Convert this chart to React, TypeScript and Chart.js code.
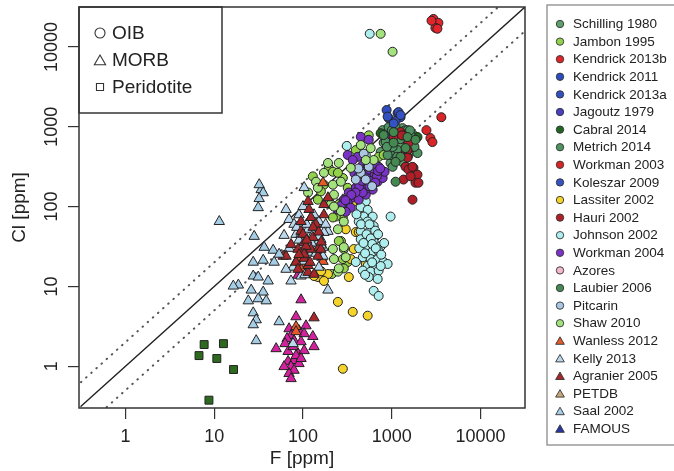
import React, { useEffect, useRef } from 'react';
import { Chart, registerables } from 'chart.js';

Chart.register(...registerables);

const FONT = "'Liberation Sans', Arial, Helvetica, sans-serif";

// ---------- axes ----------
const AXIS_MIN = 0.316; // 10^-0.5
const AXIS_MAX = 31623; // 10^4.5
const tickValues = [1, 10, 100, 1000, 10000];
const xTitle = 'F [ppm]';
const yTitle = 'Cl [ppm]';
const refRatios = [1, 2, 0.5]; // Cl/F reference lines

// ---------- inner legend ----------
const shapeLegendLabels = ['OIB', 'MORB', 'Peridotite'];
const shapeLegendShapes = ['circle', 'triangle', 'rect'];

type Pt = [number, number]; // [F ppm, Cl ppm]

// ---------- data ----------
const schilling1980: Pt[] = [[789,907],[1321,961],[1020,743],[1755,787],[1321,648],[920,541],[1755,557],[1542,443],[1355,352],[897,856],[969,743],[809,631],[749,482],[969,352],[850,700],[1150,720],[1400,900],[1650,650],[1200,600],[950,600],[1300,480]];
const jambon1995: Pt[] = [[550,781],[711,420],[195,305],[217,273],[281,228],[172,188],[159,155],[147,122],[253,107],[281,72],[809,443],[247,265],[129,239],[319,172],[234,75],[267,37],[288,29.4],[319,20.2],[195,122],[217,73],[253,37],[281,22],[288,16.8],[211,14.3],[393,510]];
const kendrick2013b: Pt[] = [[2941,22400],[3346,20000],[3097,17300],[3261,16900],[2800,21300]];
const kendrick2011: Pt[] = [[874,1620],[1161,1480],[920,1280],[1254,1316]];
const kendrick2013a: Pt[] = [[1102,1180],[1191,1525],[897,1340]];
const jagoutz1979: Pt[] = [[885,735]];
const cabral2014: Pt[] = [[749,831],[1946,743],[1624,557],[1102,468]];
const metrich2014: Pt[] = [[920,989],[1503,907],[1254,787],[852,648],[1542,631],[1161,510],[969,443],[1946,468],[1020,315],[1102,989],[1624,787],[1020,557],[897,443],[1000,900],[1250,700],[1600,900],[1800,560],[880,560],[1150,420]];
const workman2003: Pt[] = [[3614,1316],[2455,907],[2722,721],[2866,643]];
const koleszar2009: Pt[] = [[1254,1400],[1050,1100]];
const lassiter2002: Pt[] = [[319,116],[363,113],[288,107],[393,48],[424,48],[373,29.4],[345,22],[509,19.1],[328,13.1],[191,14.3],[147,13.1],[172,11.7],[133,13.5],[247,6.4],[363,4.8],[535,4.3],[281,0.93],[303,52],[160,15.5]];
const hauri2002: Pt[] = [[1542,631],[1428,482],[1503,420],[1428,315],[1755,305],[1542,291],[1355,218],[1848,199],[1710,122],[1254,860],[1503,510],[1503,410],[1710,315],[1946,251],[1624,239],[1996,199],[1355,781],[1047,750],[1300,780]];
const johnson2002: Pt[] = [[509,116],[447,98],[535,91],[483,75],[609,75],[424,65],[535,65],[625,57],[447,49],[550,48],[658,42.7],[447,39],[535,37],[625,36],[749,31.8],[509,31],[609,27.6],[711,27.6],[471,23.2],[578,22],[693,22],[809,20.2],[393,20.2],[535,18.1],[625,17.7],[471,15.8],[578,15.3],[711,15.8],[897,19.1],[550,13.1],[693,12.4],[625,8.8],[711,7.6],[969,75],[311,575],[509,443],[550,333],[564,14600],[400,80],[450,60],[520,45],[580,40],[650,50],[430,30],[500,26],[600,34],[660,30],[760,25],[560,60],[700,45],[480,35],[820,35],[600,20],[750,18],[500,14]];
const workman2004: Pt[] = [[447,747],[550,687],[319,443],[413,420],[363,383],[471,333],[578,333],[711,315],[625,273],[749,265],[522,251],[578,228],[483,218],[413,205],[693,205],[535,188],[393,172],[447,163],[609,163],[328,150],[413,141],[509,141],[363,130],[288,122],[319,111],[267,103],[345,97],[247,91],[303,86],[424,122],[471,188],[658,239],[789,228],[830,273],[500,300],[560,290],[640,250],[600,200],[520,170],[470,150],[430,180],[680,240],[560,210],[380,260],[420,240],[540,320],[620,300],[700,280],[460,210],[390,150],[350,140],[300,120],[560,180],[650,200],[740,300]];
const azores: Pt[] = [];
const laubier2006: Pt[] = [[1047,856],[809,787],[1503,743],[1047,631],[1848,687],[1428,541],[1254,420],[1102,363],[1102,205]];
const pitcarin: Pt[] = [[483,460],[550,315],[447,265],[509,218],[393,218],[420,300],[600,180]];
const shaw2010: Pt[] = [[578,539],[253,352],[172,265],[345,305],[140,205],[217,188],[114,150],[223,141],[267,88],[625,383],[191,352],[267,205],[147,172],[206,107],[247,52],[217,29.4],[223,22],[247,15.3],[223,100],[288,65],[288,31],[253,16.8],[303,23.2],[447,591],[509,383],[749,14600],[1020,8700]];
const wanless2012: Pt[] = [[168,199],[159,25.3],[87.8,18.3],[100,19.3],[83.4,20.1],[83.4,3.14],[83.4,2.71],[87.8,22.5],[163,23.2],[168,20.6],[95,16.4],[108,22.5]];
const kelly2013: Pt[] = [[64.4,92],[69.6,69],[103,173],[73.3,11.7],[83.4,44.9],[61.2,43.6],[123,73],[140,52],[117,41.1],[95,44.9],[191,49],[129,29.2],[159,38.8],[114,26.8],[168,23.9],[191,9.0],[77.2,1.92],[117,31.8],[147,35.6],[172,47.5],[168,30.9],[114,52],[79.2,60],[90.1,79],[133,79],[151,65],[103,20.7],[77.2,17.4],[95,13.5],[64.4,16.4],[151,17.4],[100,100],[110,60],[130,45],[85,55],[150,42],[125,35],[100,28],[140,26],[160,33],[90,38],[70,30],[105,14],[180,60]];
const agranier2005: Pt[] = [[114,116],[117,92],[172,106],[191,129],[172,79],[103,35.6],[87.8,29.2],[123,29.2],[151,30.9],[147,23.9],[103,22.5],[83.4,20.1],[114,15.0],[133,14.2],[59.7,23.9],[123,73],[95,49],[108,31.8],[159,29.2],[64.4,23.9],[114,18.3],[87.8,16.4],[103,25.3],[133,4.04],[140,60],[95,65],[129,41.1],[73.3,33.6],[100,45],[130,55],[110,38],[150,48],[90,25],[120,20],[160,36]];
const petdb: Pt[] = [];
const saal2002: Pt[] = [[33.8,163],[32.1,188],[35.6,149],[32.1,126],[31.3,97],[11.4,65],[28.2,42.4],[36.5,30.9],[46.1,28.4],[53.8,25.3],[35.6,21.3],[47.3,20.1],[27.5,20.1],[27.5,13.5],[31.3,13.1],[18.7,10.4],[16.4,10.1],[26.1,9.0],[35.6,8.5],[40.5,11.7],[24.2,6.6],[31.3,7.0],[38.5,6.6],[27.5,4.67],[29.7,3.82],[27.5,3.31],[29.7,2.09],[53.8,3.61]];
const famous: Pt[] = [];
const magentaMorb: Pt[] = [[95,6.8],[83.4,4.17],[108,3.21],[69.6,2.95],[90.1,2.79],[73.3,2.42],[103,2.56],[129,2.36],[79.2,2.09],[95,2.03],[133,1.76],[49.8,1.66],[67.9,1.53],[87.8,1.44],[103,1.57],[67.9,1.15],[79.2,1.18],[90.1,1.08],[73.3,0.99],[79.2,0.89],[69.6,0.81],[73.3,0.70],[66.2,2.22],[83.4,1.36],[87.8,13.8],[62.8,1.92],[95,1.25],[61.2,0.99],[77.2,1.76]];
const peridotite: Pt[] = [[7.70,1.87],[12.7,1.92],[6.74,1.36],[10.7,1.25],[16.5,0.91],[8.72,0.376]];

// ---------- series table (legend order) ----------
const seriesLabels = ['Schilling 1980','Jambon 1995','Kendrick 2013b','Kendrick 2011','Kendrick 2013a','Jagoutz 1979','Cabral 2014','Metrich 2014','Workman 2003','Koleszar 2009','Lassiter 2002','Hauri 2002','Johnson 2002','Workman 2004','Azores','Laubier 2006','Pitcarin','Shaw 2010','Wanless 2012','Kelly 2013','Agranier 2005','PETDB','Saal 2002','FAMOUS'];
const seriesData: Pt[][] = [schilling1980,jambon1995,kendrick2013b,kendrick2011,kendrick2013a,jagoutz1979,cabral2014,metrich2014,workman2003,koleszar2009,lassiter2002,hauri2002,johnson2002,workman2004,azores,laubier2006,pitcarin,shaw2010,wanless2012,kelly2013,agranier2005,petdb,saal2002,famous];
const seriesColors = ['#5f9f6a','#93d34b','#e3242b','#2e4cbf','#3150c2','#4a3fc2','#1f6620','#4e9462','#d92428','#3552c5','#f4d32a','#b01f27','#aeeeee','#7a33c6','#f4b9cb','#44894f','#a9c7e2','#a3e27c','#e5592a','#b9d8ed','#a8272a','#c8a77a','#a6cde6','#2b35a6'];
const seriesShapes = ['circle','circle','circle','circle','circle','circle','circle','circle','circle','circle','circle','circle','circle','circle','circle','circle','circle','circle','triangle','triangle','triangle','triangle','triangle','triangle'];

function drawMarker(ctx: CanvasRenderingContext2D, shape: string, x: number, y: number, r: number, fill: string | null, stroke: string, lw: number) {
  ctx.beginPath();
  if (shape === 'circle') {
    ctx.arc(x, y, r, 0, Math.PI * 2);
  } else if (shape === 'triangle') {
    const a = (2 * Math.PI) / 3;
    ctx.moveTo(x, y - r);
    ctx.lineTo(x + r * Math.sin(a), y - r * Math.cos(a));
    ctx.lineTo(x + r * Math.sin(2 * a), y - r * Math.cos(2 * a));
    ctx.closePath();
  } else {
    const s = r * Math.SQRT1_2;
    ctx.rect(x - s, y - s, 2 * s, 2 * s);
  }
  if (fill) { ctx.fillStyle = fill; ctx.fill(); }
  ctx.lineWidth = lw;
  ctx.strokeStyle = stroke;
  ctx.stroke();
}

const decorPlugin = {
  id: 'decor',
  afterDraw(chart: any) {
    const { ctx, chartArea: a } = chart;
    ctx.save();
    // plot frame
    ctx.strokeStyle = '#333';
    ctx.lineWidth = 1.5;
    ctx.strokeRect(a.left, a.top, a.right - a.left, a.bottom - a.top);

    // inner shape legend
    ctx.strokeRect(a.left, a.top, 143, 106);
    ctx.font = `19px ${FONT}`;
    ctx.textBaseline = 'middle';
    ctx.textAlign = 'left';
    shapeLegendLabels.forEach((lab, i) => {
      const y = a.top + 26 + i * 27;
      const shape = shapeLegendShapes[i];
      const r = shape === 'triangle' ? 6.5 : 5;
      drawMarker(ctx, shape, a.left + 21, y + (shape === 'triangle' ? 1.5 : 0), r, null, '#333', 1.1);
      ctx.fillStyle = '#222';
      ctx.fillText(lab, a.left + 33, y + 1);
    });

    // right legend
    ctx.strokeStyle = '#8a8a8a';
    ctx.lineWidth = 1.3;
    ctx.strokeRect(547, 5, 200, 440);
    ctx.font = `13.5px ${FONT}`;
    seriesLabels.forEach((lab, i) => {
      const y = 24 + i * 17.6;
      const shape = seriesShapes[i];
      drawMarker(ctx, shape, 560, y + (shape === 'triangle' ? 1 : 0), shape === 'triangle' ? 5 : 3.7, seriesColors[i], '#333', 0.9);
      ctx.fillStyle = '#222';
      ctx.fillText(lab, 573, y + 0.5);
    });
    ctx.restore();
  },
};

export default function App() {
  const ref = useRef<HTMLCanvasElement | null>(null);

  useEffect(() => {
    if (!ref.current) return;
    const datasets: any[] = [];
    let drawIdx = 0;
    const push = (ds: any) => { ds.order = 1000 - drawIdx++; datasets.push(ds); };
    const toXY = (arr: Pt[]) => arr.map(([x, y]) => ({ x, y }));

    refRatios.forEach((r, i) => push({
      label: `ref${i}`,
      data: [{ x: AXIS_MIN, y: AXIS_MIN * r }, { x: AXIS_MAX, y: AXIS_MAX * r }],
      showLine: true,
      borderColor: i === 0 ? '#222' : '#555',
      borderWidth: i === 0 ? 1.4 : 2,
      borderDash: i === 0 ? [] : [0.5, 6.4],
      borderCapStyle: 'round',
      pointRadius: 0,
      fill: false,
    }));

    push({
      label: 'Peridotite',
      data: toXY(peridotite),
      pointStyle: 'rect',
      pointRadius: 5.6,
      backgroundColor: '#2d6a1f',
      borderColor: '#222',
      borderWidth: 1,
    });

    const addSeries = (i: number) => push({
      label: seriesLabels[i],
      data: toXY(seriesData[i]),
      pointStyle: seriesShapes[i],
      pointRadius: seriesShapes[i] === 'triangle' ? 6 : 4.5,
      backgroundColor: seriesColors[i],
      borderColor: '#222',
      borderWidth: 1,
    });

    seriesLabels.forEach((_, i) => { if (seriesShapes[i] === 'circle') addSeries(i); });
    push({
      label: 'MORB (magenta)',
      data: toXY(magentaMorb),
      pointStyle: 'triangle',
      pointRadius: 6,
      backgroundColor: '#d4229f',
      borderColor: '#222',
      borderWidth: 1,
    });
    seriesLabels.forEach((_, i) => { if (seriesShapes[i] === 'triangle') addSeries(i); });

    const tickFont = { family: FONT, size: 18 };
    const titleFont = { family: FONT, size: 19 };

    const chart = new Chart(ref.current, {
      type: 'scatter',
      data: { datasets },
      options: {
        animation: false,
        responsive: false,
        devicePixelRatio: 1,
        layout: { padding: { top: 6, right: 149, bottom: 0, left: 0 } },
        plugins: { legend: { display: false }, tooltip: { enabled: false } },
        scales: {
          x: {
            type: 'logarithmic',
            position: 'bottom',
            min: AXIS_MIN,
            max: AXIS_MAX,
            afterBuildTicks: (s: any) => { s.ticks = tickValues.map((v) => ({ value: v })); },
            afterFit: (s: any) => { s.height = 63; s.paddingLeft = 0; s.paddingRight = 0; s.paddingTop = 0; s.paddingBottom = 0; },
            ticks: { callback: (v: any) => String(v), font: tickFont, color: '#222', padding: 7, autoSkip: false, minRotation: 0, maxRotation: 0 },
            grid: { display: true, drawOnChartArea: false, drawTicks: true, tickLength: 11, color: '#333', lineWidth: 1.2 },
            border: { display: false },
            title: { display: true, text: xTitle, font: titleFont, color: '#222', padding: { top: 0, bottom: 1 } },
          },
          y: {
            type: 'logarithmic',
            position: 'left',
            min: AXIS_MIN,
            max: AXIS_MAX,
            afterBuildTicks: (s: any) => { s.ticks = tickValues.map((v) => ({ value: v })); },
            afterFit: (s: any) => { s.width = 79; s.paddingLeft = 0; s.paddingRight = 0; s.paddingTop = 0; s.paddingBottom = 0; },
            ticks: { callback: (v: any) => String(v), font: tickFont, color: '#222', padding: -9, autoSkip: false, minRotation: 90, maxRotation: 90, crossAlign: 'center' },
            grid: { display: true, drawOnChartArea: false, drawTicks: true, tickLength: 11, color: '#333', lineWidth: 1.2 },
            border: { display: false },
            title: { display: true, text: yTitle, font: titleFont, color: '#222', padding: { top: 8, bottom: 0 } },
          },
        },
      } as any,
      plugins: [decorPlugin],
    });
    return () => chart.destroy();
  }, []);

  return (
    <div style={{ position: 'fixed', left: 0, top: 0, width: 674, height: 471, background: '#fff' }}>
      <canvas ref={ref} width={674} height={471} style={{ display: 'block' }} />
    </div>
  );
}
